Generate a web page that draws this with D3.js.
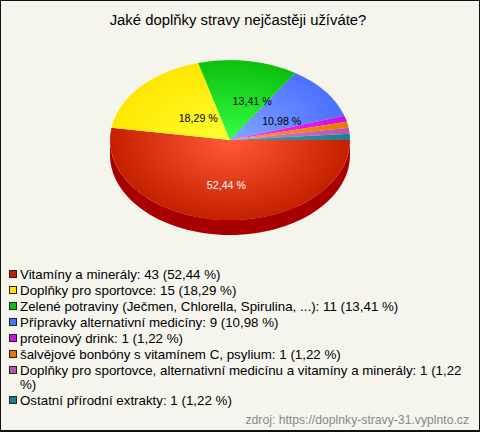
<!DOCTYPE html>
<html><head><meta charset="utf-8">
<script src="https://cdnjs.cloudflare.com/ajax/libs/d3/7.8.5/d3.min.js"></script>
<style>html,body{margin:0;padding:0;background:#fff}svg{display:block}text{font-family:"Liberation Sans",Arial,sans-serif}</style>
</head><body><svg id="c" width="480" height="432"></svg>
<script>
const title = "Jaké doplňky stravy nejčastěji užíváte?";
const source = "zdroj: https://doplnky-stravy-31.vyplnto.cz";
const categories = ["Vitamíny a minerály","Doplňky pro sportovce","Zelené potraviny (Ječmen, Chlorella, Spirulina, ...)","Přípravky alternativní medicíny","proteinový drink","šalvějové bonbóny s vitamínem C, psylium","Doplňky pro sportovce, alternativní medicínu a vitamíny a minerály","Ostatní přírodní extrakty"];
const values = [43,15,11,9,1,1,1,1];
const edgeColors = ["#c42000","#ffe600","#0cc00c","#4a70ff","#cc10dd","#e87800","#bb55aa","#1f7f90"];
const innerColors = ["#ff5a3a","#ffff33","#33ff44","#85a5ff","#ff33ff","#ff9a20","#dd80cc","#3aa0b0"];
const sideColor = "#a80000";
const labelNudges = [[1,6],[13,5],[13,1],[4,6]];

const W=480,H=432,cx=230,cy=140,rx=120,ry=80,depth=15;
const svg=d3.select("#c");
svg.append("rect").attr("width",W).attr("height",H).attr("fill","#111");
svg.append("rect").attr("x",1).attr("y",1).attr("width",W-2).attr("height",H-3).attr("fill","#f5f5ee");
svg.append("text").attr("x",238).attr("y",25).attr("text-anchor","middle").attr("font-size",14.85).attr("fill","#000").text(title);

const total=d3.sum(values);
const pct=v=>d3.format(".2f")(v/total*100).replace(".",",");
const pie=d3.pie().sort(null).startAngle(Math.PI/2).endAngle(Math.PI*2.5);
const arcs=pie(values);
const arc=d3.arc().innerRadius(0).outerRadius(1);
const defs=svg.append("defs");
edgeColors.forEach((c,i)=>{
  const g=defs.append("radialGradient").attr("id","g"+i).attr("gradientUnits","userSpaceOnUse").attr("cx",0).attr("cy",0).attr("r",1);
  g.append("stop").attr("offset","0%").attr("stop-color",innerColors[i]);
  g.append("stop").attr("offset","100%").attr("stop-color",c);
});
const pt=a=>[Math.sin(a)*rx+cx,-Math.cos(a)*ry+cy];
arcs.forEach(d=>{
  const a0=Math.max(d.startAngle,Math.PI/2),a1=Math.min(d.endAngle,Math.PI*1.5);
  if(a1<=a0) return;
  const top=d3.range(0,61).map(k=>pt(a0+(a1-a0)*k/60));
  const poly=top.concat(top.slice().reverse().map(p=>[p[0],p[1]+depth]));
  svg.append("path").attr("d",d3.line()(poly)+"Z").attr("fill",sideColor);
});
const pg=svg.append("g").attr("transform",`translate(${cx},${cy}) scale(${rx},${ry})`);
pg.selectAll("path").data(arcs).join("path").attr("d",arc).attr("fill",(d,i)=>`url(#g${i})`);
arcs.slice(0,4).forEach((d,i)=>{
  const m=(d.startAngle+d.endAngle)/2,n=labelNudges[i];
  svg.append("text").attr("x",cx+Math.sin(m)*rx*.5+n[0]).attr("y",cy-Math.cos(m)*ry*.5+n[1]+3.5)
    .attr("text-anchor","middle").attr("font-size",10.67).attr("fill",i==0?"#fff":"#000").text(pct(values[i])+" %");
});
let y=279;
categories.forEach((c,i)=>{
  svg.append("rect").attr("x",9.5).attr("y",y-8.5).attr("width",7).attr("height",7).attr("fill",edgeColors[i]).attr("stroke","#222");
  const words=`${c}: ${values[i]} (${pct(values[i])} %)`.split(" ");
  let line="",t=svg.append("text").attr("x",20).attr("y",y).attr("font-size",13.33).attr("fill","#000");
  words.forEach(w=>{
    const test=line?line+" "+w:w;t.text(test);
    if(t.node().getComputedTextLength()>450){
      t.text(line);y+=14;line=w;
      t=svg.append("text").attr("x",20).attr("y",y).attr("font-size",13.33).attr("fill","#000").text(w);
    } else line=test;
  });
  y+=16;
});
svg.append("text").attr("x",469).attr("y",424).attr("text-anchor","end").attr("font-size",12.2).attr("fill","#888").text(source);
</script></body></html>
